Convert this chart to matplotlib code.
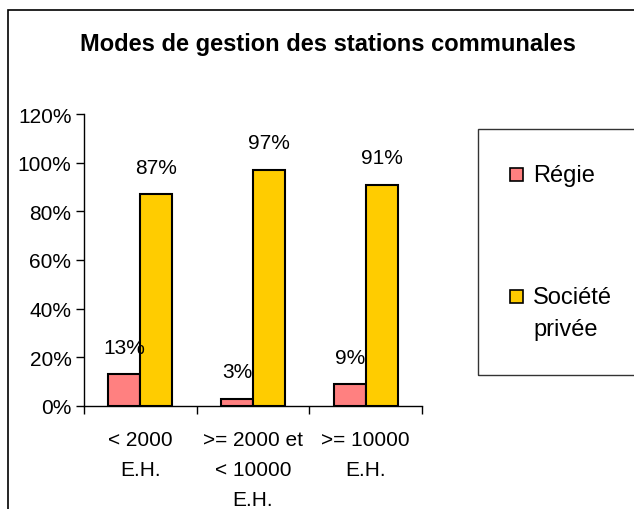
import matplotlib
matplotlib.use("Agg")
import matplotlib.pyplot as plt
from matplotlib.patches import Rectangle
import numpy as np

plt.rcParams['font.family'] = ['Liberation Sans', 'DejaVu Sans']

title = "Modes de gestion des stations communales"
categories = ["< 2000\nE.H.", ">= 2000 et\n< 10000\nE.H.", ">= 10000\nE.H."]
series_names = ["Régie", "Société\nprivée"]
regie = [0.13, 0.03, 0.09]
societe = [0.87, 0.97, 0.91]
value_labels_regie = ["13%", "3%", "9%"]
value_labels_societe = ["87%", "97%", "91%"]
yticks = [0, 0.2, 0.4, 0.6, 0.8, 1.0, 1.2]
yticklabels = ["0%", "20%", "40%", "60%", "80%", "100%", "120%"]
colors = ["#FF8080", "#FFCC00"]

W, H = 634, 510
fig = plt.figure(figsize=(W / 100, H / 100), dpi=100)

# outer chart frame
fig.patches.append(Rectangle((8 / W, -0.1), 1.2, (H - 11) / H + 0.1, transform=fig.transFigure,
                             fill=False, edgecolor="black", linewidth=1.2))

ax = fig.add_axes([84 / W, (H - 407) / H, (422 - 84) / W, (407 - 115) / H])
x = np.arange(len(categories))
bw = 0.283
b1 = ax.bar(x - bw / 2, regie, bw, color=colors[0], edgecolor="black", linewidth=1.5, zorder=3)
b2 = ax.bar(x + bw / 2, societe, bw, color=colors[1], edgecolor="black", linewidth=1.5, zorder=3)

for bars, labs in ((b1, value_labels_regie), (b2, value_labels_societe)):
    for rect, lab in zip(bars, labs):
        ax.annotate(lab, (rect.get_x() + rect.get_width() / 2, rect.get_height()),
                    xytext=(0, 19.5), textcoords="offset points",
                    ha="center", va="center", fontsize=15, zorder=4)

ax.set_xlim(-0.5, len(categories) - 0.5)
ax.set_ylim(0, 1.2)
ax.set_yticks(yticks)
ax.set_yticklabels(yticklabels, fontsize=15)
ax.set_xticks(np.arange(len(categories) + 1) - 0.5, minor=False)
ax.set_xticklabels([])
ax.set_xticks(x, minor=True)
ax.set_xticklabels(categories, minor=True, fontsize=15, linespacing=1.75, va="top")
ax.tick_params(axis="x", which="minor", length=0, pad=17)
ax.tick_params(axis="x", which="major", length=6, direction="out", width=1)
ax.tick_params(axis="y", length=6, direction="out", width=1, pad=3)
for s in ("top", "right"):
    ax.spines[s].set_visible(False)
for s in ("left", "bottom"):
    ax.spines[s].set_linewidth(1)

fig.text(328 / W, (H - 45) / H, title, ha="center", va="center", fontsize=17, fontweight="bold")

# legend
fig.patches.append(Rectangle((478 / W, (H - 376) / H), 0.5, (376 - 130) / H, transform=fig.transFigure,
                             fill=False, edgecolor="#333333", linewidth=1.0))
leg_y = [175, 297]
for name, col, yy in zip(series_names, colors, leg_y):
    fig.patches.append(Rectangle((510 / W, (H - yy - 7) / H), 13 / W, 13 / H, transform=fig.transFigure,
                                 facecolor=col, edgecolor="black", linewidth=1.2))
    fig.text(533 / W, (H - yy) / H + 0.019, name, ha="left", va="top", fontsize=17, linespacing=1.55)

fig.savefig("out.png", dpi=100)
